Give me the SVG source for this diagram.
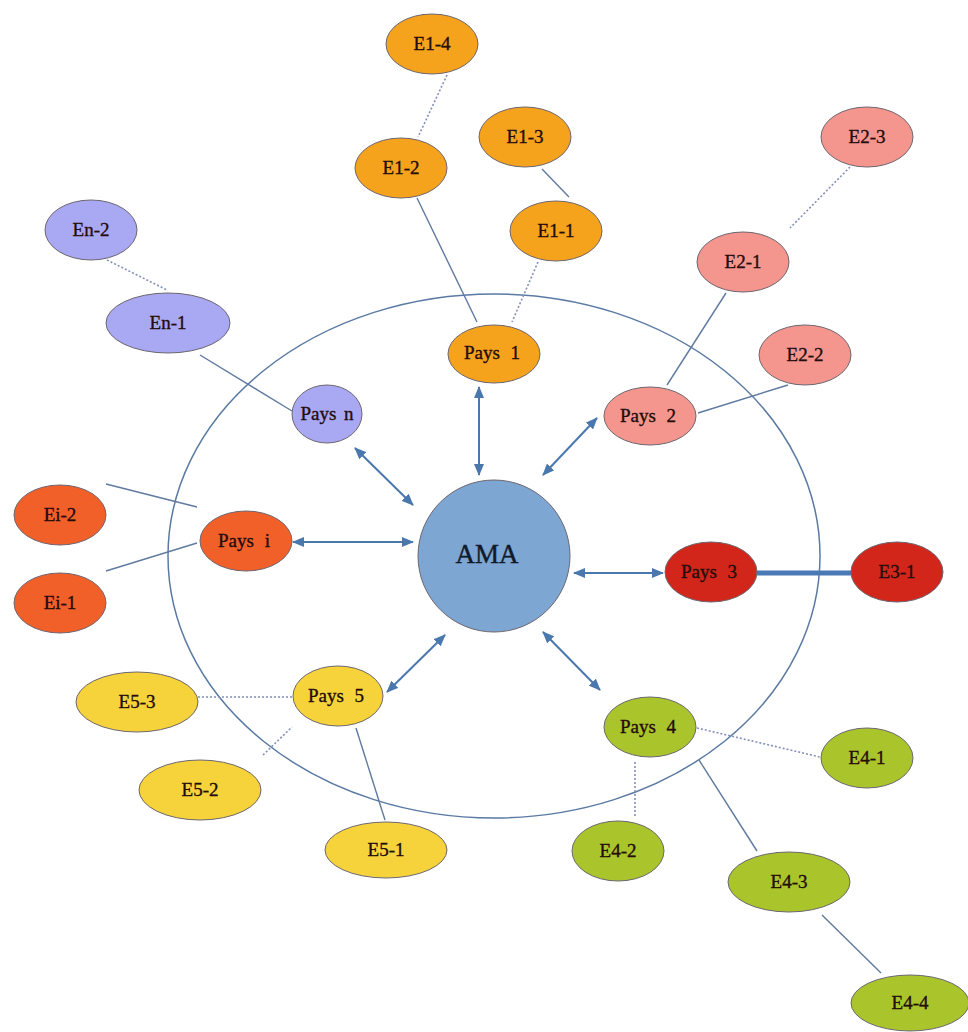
<svg xmlns="http://www.w3.org/2000/svg" width="968" height="1032" viewBox="0 0 968 1032">
<style>
.bg{fill:#ffffff}
.ring{fill:none;stroke:#5a7aa3;stroke-width:1.5}
.n ellipse,.n circle{stroke:#6d6670;stroke-width:1}
.t{font-family:"Liberation Serif","DejaVu Serif",serif;font-size:19px;fill:#240c0c;stroke:#240c0c;stroke-width:0.35;text-anchor:middle;word-spacing:6px}
.ta{font-family:"Liberation Serif","DejaVu Serif",serif;font-size:27px;fill:#101a2a;stroke:#101a2a;stroke-width:0.4;text-anchor:middle}
.s{stroke:#5f7aa0;stroke-width:1.4;fill:none}
.d{stroke:#8390b8;stroke-width:1.6;stroke-dasharray:2 2;fill:none}
.thick{stroke:#4a78b4;stroke-width:5;fill:none}
.a{stroke:#4a78ad;stroke-width:2;fill:none;marker-start:url(#ah);marker-end:url(#ah)}
.c1{fill:#f5a21d}.c2{fill:#f4968e}.cn{fill:#a9a8f2}.ci{fill:#f2602a}.c3{fill:#d2261b}.c5{fill:#f7d33b}.c4{fill:#a9c52b}.ca{fill:#7da6d3}
</style>
<defs>
<marker id="ah" viewBox="0 0 12 10" refX="11" refY="5" markerWidth="12" markerHeight="10" markerUnits="userSpaceOnUse" orient="auto-start-reverse">
<path d="M0,0 L12,5 L0,10 z" fill="#4a78ad"/>
</marker>
</defs>
<rect class="bg" x="0" y="0" width="968" height="1032"/>
<ellipse class="ring" cx="494" cy="556" rx="326" ry="262"/>
<g id="connectors">
<line class="s" x1="542" y1="169" x2="569" y2="197"/>
<line class="s" x1="417" y1="198" x2="477" y2="322"/>
<line class="s" x1="200" y1="355" x2="292" y2="411"/>
<line class="s" x1="726" y1="293" x2="667" y2="385"/>
<line class="s" x1="698" y1="413" x2="788" y2="385"/>
<line class="s" x1="106" y1="484" x2="197" y2="507"/>
<line class="s" x1="106" y1="571" x2="197" y2="543"/>
<line class="s" x1="356" y1="728" x2="385" y2="820"/>
<line class="s" x1="699" y1="760" x2="757" y2="851"/>
<line class="s" x1="822" y1="915" x2="881" y2="973"/>
<line class="d" x1="447" y1="75" x2="418" y2="137"/>
<line class="d" x1="538" y1="262" x2="512" y2="322"/>
<line class="d" x1="107" y1="260" x2="167" y2="290"/>
<line class="d" x1="850" y1="167" x2="790" y2="228"/>
<line class="d" x1="198" y1="697" x2="293" y2="697"/>
<line class="d" x1="263" y1="755" x2="292" y2="727"/>
<line class="d" x1="697" y1="728" x2="820" y2="757"/>
<line class="d" x1="635" y1="762" x2="635" y2="817"/>
<line class="thick" x1="757" y1="573" x2="852" y2="573"/>
<line class="a" x1="479" y1="387" x2="479" y2="475"/>
<line class="a" x1="597" y1="418" x2="543" y2="475"/>
<line class="a" x1="355" y1="448" x2="413" y2="505"/>
<line class="a" x1="293" y1="542" x2="413" y2="542"/>
<line class="a" x1="574" y1="573" x2="663" y2="573"/>
<line class="a" x1="387" y1="692" x2="445" y2="635"/>
<line class="a" x1="543" y1="632" x2="600" y2="690"/>
</g>
<g id="AMA" class="n"><circle class="ca" cx="494" cy="556" r="76"/><text class="ta" x="487" y="563">AMA</text></g>
<g id="pays1" class="n"><ellipse class="c1" cx="494" cy="354" rx="46" ry="29"/><text class="t" x="492" y="359">Pays 1</text></g>
<g id="e1-1" class="n"><ellipse class="c1" cx="556" cy="231" rx="46" ry="30"/><text class="t" x="556" y="237">E1-1</text></g>
<g id="e1-2" class="n"><ellipse class="c1" cx="401" cy="168" rx="46" ry="30"/><text class="t" x="401" y="174">E1-2</text></g>
<g id="e1-3" class="n"><ellipse class="c1" cx="525" cy="137" rx="46" ry="30"/><text class="t" x="525" y="143">E1-3</text></g>
<g id="e1-4" class="n"><ellipse class="c1" cx="432" cy="44" rx="46" ry="30"/><text class="t" x="432" y="50">E1-4</text></g>
<g id="pays2" class="n"><ellipse class="c2" cx="650" cy="416" rx="46" ry="29"/><text class="t" x="648" y="422">Pays 2</text></g>
<g id="e2-1" class="n"><ellipse class="c2" cx="743" cy="262" rx="46" ry="30"/><text class="t" x="743" y="268">E2-1</text></g>
<g id="e2-2" class="n"><ellipse class="c2" cx="805" cy="355" rx="46" ry="30"/><text class="t" x="805" y="361">E2-2</text></g>
<g id="e2-3" class="n"><ellipse class="c2" cx="867" cy="137" rx="46" ry="30"/><text class="t" x="867" y="143">E2-3</text></g>
<g id="pays3" class="n"><ellipse class="c3" cx="711" cy="572" rx="46" ry="30"/><text class="t" x="709" y="578">Pays 3</text></g>
<g id="e3-1" class="n"><ellipse class="c3" cx="897" cy="572" rx="46" ry="30"/><text class="t" x="897" y="578">E3-1</text></g>
<g id="pays4" class="n"><ellipse class="c4" cx="650" cy="727" rx="46" ry="30"/><text class="t" x="648" y="733">Pays 4</text></g>
<g id="e4-1" class="n"><ellipse class="c4" cx="867" cy="758" rx="46" ry="30"/><text class="t" x="867" y="764">E4-1</text></g>
<g id="e4-2" class="n"><ellipse class="c4" cx="618" cy="851" rx="46" ry="30"/><text class="t" x="618" y="857">E4-2</text></g>
<g id="e4-3" class="n"><ellipse class="c4" cx="789" cy="882" rx="61" ry="30"/><text class="t" x="789" y="888">E4-3</text></g>
<g id="e4-4" class="n"><ellipse class="c4" cx="910" cy="1003" rx="59" ry="28"/><text class="t" x="910" y="1009">E4-4</text></g>
<g id="pays5" class="n"><ellipse class="c5" cx="338" cy="696" rx="45" ry="30"/><text class="t" x="336" y="702">Pays 5</text></g>
<g id="e5-1" class="n"><ellipse class="c5" cx="386" cy="850" rx="61" ry="28"/><text class="t" x="386" y="856">E5-1</text></g>
<g id="e5-2" class="n"><ellipse class="c5" cx="200" cy="790" rx="61" ry="30"/><text class="t" x="200" y="796">E5-2</text></g>
<g id="e5-3" class="n"><ellipse class="c5" cx="137" cy="702" rx="61" ry="30"/><text class="t" x="137" y="708">E5-3</text></g>
<g id="paysi" class="n"><ellipse class="ci" cx="246" cy="541" rx="46" ry="30"/><text class="t" x="244" y="547">Pays i</text></g>
<g id="ei-1" class="n"><ellipse class="ci" cx="60" cy="603" rx="46" ry="30"/><text class="t" x="60" y="609">Ei-1</text></g>
<g id="ei-2" class="n"><ellipse class="ci" cx="60" cy="515" rx="46" ry="30"/><text class="t" x="60" y="521">Ei-2</text></g>
<g id="paysn" class="n"><ellipse class="cn" cx="327" cy="414" rx="35" ry="29"/><text class="t" x="327" y="420" style="word-spacing:3px">Pays n</text></g>
<g id="en-1" class="n"><ellipse class="cn" cx="168" cy="323" rx="62" ry="30"/><text class="t" x="168" y="329">En-1</text></g>
<g id="en-2" class="n"><ellipse class="cn" cx="91" cy="230" rx="46" ry="30"/><text class="t" x="91" y="236">En-2</text></g>
</svg>
